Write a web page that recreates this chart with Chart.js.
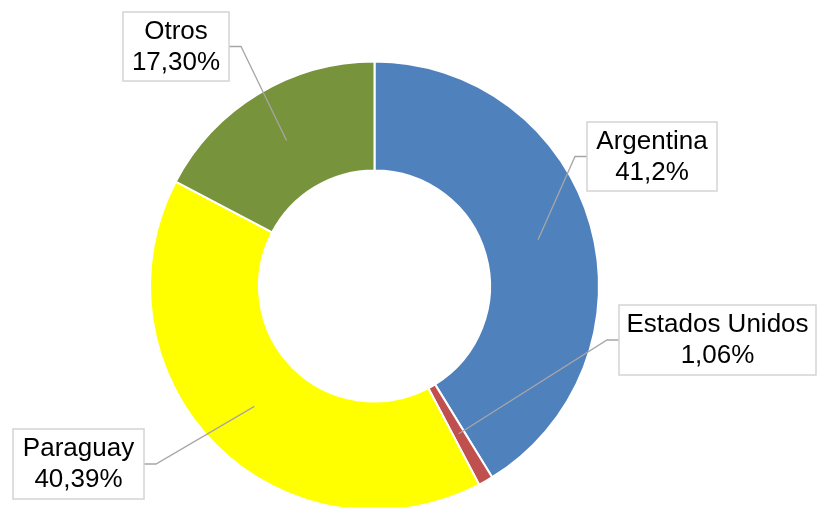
<!DOCTYPE html>
<html>
<head>
<meta charset="utf-8">
<script src="https://cdn.jsdelivr.net/npm/chart.js@4/dist/chart.umd.min.js"></script>
<style>
  html, body { margin: 0; padding: 0; background: #fff; overflow: hidden; }
  #wrap { width: 817px; height: 507px; overflow: hidden; }
</style>
</head>
<body>
<div id="wrap"><canvas id="pais" width="817" height="572"></canvas></div>
<script>
// data
var paises = ['Argentina', 'Estados Unidos', 'Paraguay', 'Otros'];
var participacion = [41.2, 1.06, 40.39, 17.30];
var etiquetas = ['41,2%', '1,06%', '40,39%', '17,30%'];
var colores = ['#4F81BD', '#C0504D', '#FFFF00', '#77933C'];

// label boxes: left, top, width, height (placed like the original)
var cajas = [
    [587, 122, 130, 69],
    [619, 305, 197, 70],
    [13, 429, 131, 70],
    [123, 12, 106, 69]
];

var etiquetasPlugin = {
    id: 'etiquetas',
    afterDatasetsDraw: function (chart) {
        var ctx = chart.ctx;
        var arcs = chart.getDatasetMeta(0).data;
        ctx.save();
        for (var i = 0; i < arcs.length; i++) {
            var p = arcs[i].getCenterPoint();
            var b = cajas[i];
            var midY = b[1] + b[3] / 2;
            var leftSide = (b[0] + b[2] / 2) < p.x;
            var edge = leftSide ? b[0] + b[2] : b[0];
            var stub = leftSide ? edge + 12 : edge - 12;

            // leader line
            ctx.strokeStyle = '#A6A6A6';
            ctx.lineWidth = 1.3;
            ctx.beginPath();
            ctx.moveTo(edge, midY);
            ctx.lineTo(stub, midY);
            ctx.lineTo(p.x, p.y);
            ctx.stroke();

            // box
            ctx.fillStyle = '#fff';
            ctx.fillRect(b[0], b[1], b[2], b[3]);
            ctx.strokeStyle = '#D4D4D4';
            ctx.lineWidth = 1.5;
            ctx.strokeRect(b[0], b[1], b[2], b[3]);

            // text
            ctx.fillStyle = '#000';
            ctx.font = '26px "Liberation Sans", Arial, sans-serif';
            ctx.textAlign = 'center';
            ctx.textBaseline = 'middle';
            var cx = b[0] + b[2] / 2;
            ctx.fillText(paises[i], cx, midY - 15);
            ctx.fillText(etiquetas[i], cx, midY + 16);
        }
        ctx.restore();
    }
};

var config = {
    type: 'doughnut',
    data: {
        labels: paises,
        datasets: [{
            data: participacion,
            backgroundColor: colores,
            borderColor: '#ffffff',
            borderWidth: 2
        }]
    },
    options: {
        responsive: false,
        animation: false,
        events: [],
        radius: 224.5,
        cutout: 114.5,
        layout: { padding: { left: 151, right: 219, top: 62.5, bottom: 62.5 } },
        plugins: {
            legend: { display: false },
            tooltip: { enabled: false }
        }
    },
    plugins: [etiquetasPlugin]
};

var ctx = document.getElementById('pais').getContext('2d');
window.myPie = new Chart(ctx, config);
</script>
</body>
</html>
